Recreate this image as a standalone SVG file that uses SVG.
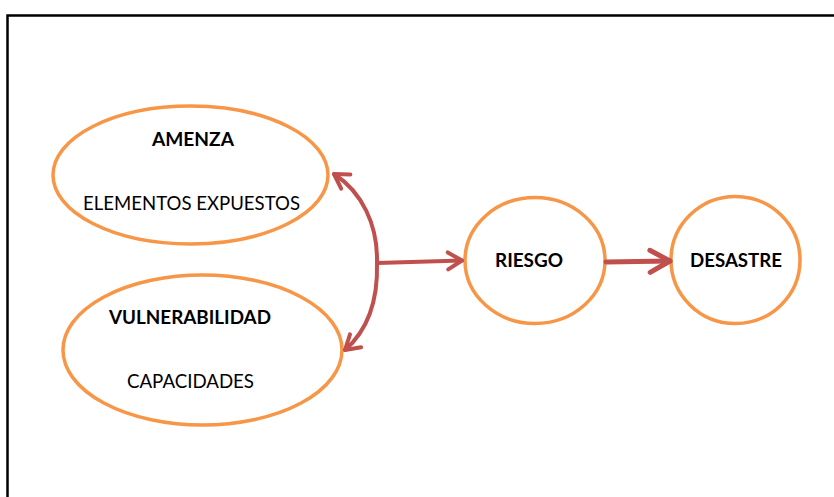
<svg xmlns="http://www.w3.org/2000/svg" width="834" height="497" viewBox="0 0 834 497">
<style>
  .node { fill: #ffffff; stroke: #F79646; stroke-width: 3.5; }
  .b { font-family: Lato, "Open Sans", "Liberation Sans", sans-serif; font-weight: bold; font-size: 18.5px; fill: #000000; }
  .b2 { font-family: Lato, "Open Sans", "Liberation Sans", sans-serif; font-weight: bold; font-size: 19.5px; fill: #000000; }
  .r { font-family: Lato, "Open Sans", "Liberation Sans", sans-serif; font-size: 20px; fill: #000000; }
  .conn { fill: none; stroke: #C0504D; stroke-linecap: round; stroke-linejoin: round; }
</style>
<defs>
  <marker id="chev" markerUnits="userSpaceOnUse" viewBox="-18 -12 22 24" refX="0" refY="0" markerWidth="22" markerHeight="24" orient="auto">
    <path d="M-14,-8.5 L0,0 L-14,8.5" fill="none" stroke="#C0504D" stroke-width="4" stroke-linecap="round" stroke-linejoin="round"/>
  </marker>
  <marker id="chev2" markerUnits="userSpaceOnUse" viewBox="-26 -14 30 28" refX="0" refY="0" markerWidth="30" markerHeight="28" orient="auto">
    <path d="M-20,-11 L0,0 L-20,11" fill="none" stroke="#C0504D" stroke-width="5" stroke-linecap="round" stroke-linejoin="round"/>
  </marker>
</defs>
<rect width="834" height="497" fill="#ffffff"/>
<rect x="7.5" y="15.5" width="840" height="500" fill="none" stroke="#000000" stroke-width="2.5"/>

<g id="amenza">
  <ellipse class="node" cx="190.5" cy="175" rx="137.5" ry="69"/>
  <text class="b" x="193" y="146" text-anchor="middle" textLength="82" lengthAdjust="spacingAndGlyphs">AMENZA</text>
  <text class="r" x="191.5" y="210" text-anchor="middle" textLength="217" lengthAdjust="spacingAndGlyphs">ELEMENTOS EXPUESTOS</text>
</g>
<g id="vulnerabilidad">
  <ellipse class="node" cx="202.5" cy="350" rx="139.5" ry="75"/>
  <text class="b" x="190" y="324" text-anchor="middle" textLength="162" lengthAdjust="spacingAndGlyphs">VULNERABILIDAD</text>
  <text class="r" x="190.5" y="388" text-anchor="middle" textLength="127" lengthAdjust="spacingAndGlyphs">CAPACIDADES</text>
</g>
<g id="riesgo">
  <ellipse class="node" cx="535" cy="260.5" rx="70" ry="63"/>
  <text class="b2" x="529" y="267" text-anchor="middle" textLength="68" lengthAdjust="spacingAndGlyphs">RIESGO</text>
</g>
<g id="desastre">
  <ellipse class="node" cx="735.5" cy="260" rx="64.5" ry="63.5"/>
  <text class="b2" x="736" y="267" text-anchor="middle" textLength="92" lengthAdjust="spacingAndGlyphs">DESASTRE</text>
</g>

<g id="connectors">
  <path class="conn" stroke-width="4" d="M377,263 C378,225 362,192 334,174" marker-end="url(#chev)"/>
  <path class="conn" stroke-width="4" d="M377,263 C378,300 368,330 345,350" marker-end="url(#chev)"/>
  <path class="conn" stroke-width="4" d="M377,263 L462,260.5" marker-end="url(#chev)"/>
  <path class="conn" stroke-width="5" stroke-linecap="butt" d="M606,262 L670,261" marker-end="url(#chev2)"/>
</g>
</svg>
